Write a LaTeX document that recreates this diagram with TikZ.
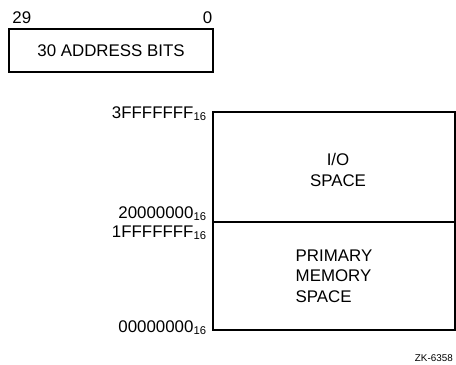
\documentclass[tikz,border=0pt]{standalone}
\usepackage{fontspec}
\setmainfont{Liberation Sans}
\usetikzlibrary{positioning}
\tikzset{
  regbox/.style={draw=black,line width=1.2pt,minimum width=51mm,minimum height=10.75mm,
                 inner sep=0pt,font=\fontsize{12}{14.5}\selectfont},
  spacebox/.style={draw=black,line width=1.2pt,minimum width=60.5mm,inner sep=0pt,outer sep=0pt},
  spacetxt/.style={align=left,inner sep=0pt,font=\fontsize{12}{14.5}\selectfont},
  addrlbl/.style={anchor=base east,inner sep=0pt,font=\fontsize{12}{14.5}\selectfont},
  bitno/.style={inner sep=0pt,font=\fontsize{12}{14.5}\selectfont},
  figcode/.style={inner sep=0pt,font=\fontsize{7}{8}\selectfont},
}

\begin{document}
\begin{tikzpicture}[x=0.25mm,y=-0.25mm]
  \useasboundingbox (0,0) rectangle (456,364);

  % ===== address register =====
  \node[regbox] (addrbits) at (111,50.5) {30 ADDRESS BITS};
  \node[bitno,above right=1mm and 1mm of addrbits.north west] (hibit) {29};
  \node[bitno,above left=1mm and 0.3mm of addrbits.north east] (lobit) {0};

  % ===== address space =====
  \node[spacebox,minimum height=27.5mm] (io) at (334,167) {};
  \node[spacebox,minimum height=27mm,below=0mm of io] (mem) {};
  \node[spacetxt,align=center] (iotxt) at ([xshift=1mm,yshift=-0.7mm]io.center) {I/O\\SPACE};
  \node[spacetxt] (memtxt) at (mem.center) {PRIMARY\\MEMORY\\SPACE};

  % address limits
  \node[addrlbl] (atop) at ([xshift=-1.5mm,yshift=-1.5mm]io.north west) {3FFFFFFF\textsubscript{16}};
  \node[addrlbl] (aiolo) at ([xshift=-1.5mm,yshift=1mm]io.south west) {20000000\textsubscript{16}};
  \node[addrlbl] (amemhi) at ([xshift=-1.5mm,yshift=-3.75mm]mem.north west) {1FFFFFFF\textsubscript{16}};
  \node[addrlbl] (abot) at ([xshift=-1.5mm,yshift=-0.5mm]mem.south west) {00000000\textsubscript{16}};

  \node[figcode,below left=6mm and 0.5mm of mem.south east] (code) {ZK-6358};
\end{tikzpicture}
\end{document}
